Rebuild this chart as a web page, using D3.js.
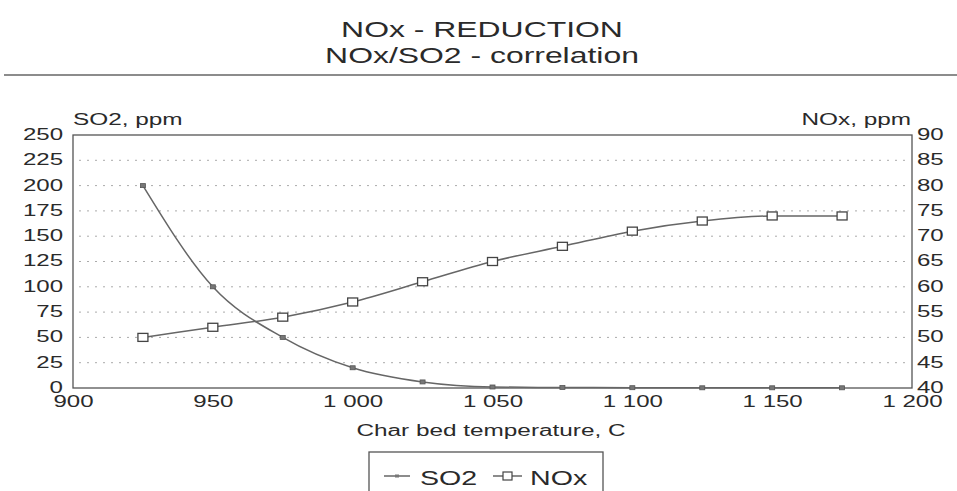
<!DOCTYPE html>
<html><head><meta charset="utf-8">
<script src="https://cdn.jsdelivr.net/npm/d3@7"></script>
<style>body{margin:0;background:#fff;}text{font-family:"Liberation Sans",Arial,sans-serif;fill:#2a2a2a;}</style>
</head><body>
<svg id="c" width="957" height="491"></svg>
<script>
const temps = [925, 950, 975, 1000, 1025, 1050, 1075, 1100, 1125, 1150, 1175];
const so2 = [200, 100, 50, 20, 6, 1, 0.5, 0.3, 0.2, 0.2, 0.2];
const nox = [50, 52, 54, 57, 61, 65, 68, 71, 73, 74, 74];
const xTicks = [900, 950, 1000, 1050, 1100, 1150, 1200];
const leftTicks = [0, 25, 50, 75, 100, 125, 150, 175, 200, 225, 250];
const rightTicks = [40, 45, 50, 55, 60, 65, 70, 75, 80, 85, 90];

const svg = d3.select("#c");
const L = 73, R = 912, T = 135, B = 388;
const x = d3.scaleLinear().domain([900, 1200]).range([L, R]);
const yL = d3.scaleLinear().domain([0, 250]).range([B, T]);
const yR = d3.scaleLinear().domain([40, 90]).range([B, T]);
const fmt = d => d >= 1000 ? Math.floor(d/1000) + " " + String(d%1000).padStart(3,"0") : String(d);
function stretch(sel, k) {
  sel.each(function() {
    const w = this.getComputedTextLength();
    this.setAttribute("textLength", (w * k).toFixed(1));
    this.setAttribute("lengthAdjust", "spacingAndGlyphs");
  });
}

// title
stretch(svg.append("text").attr("x", 482).attr("y", 37).attr("text-anchor", "middle").attr("font-size", 22).text("NOx - REDUCTION"), 1.45);
stretch(svg.append("text").attr("x", 482).attr("y", 63).attr("text-anchor", "middle").attr("font-size", 22).text("NOx/SO2 - correlation"), 1.45);
svg.append("line").attr("x1", 4).attr("x2", 957).attr("y1", 75).attr("y2", 75).attr("stroke", "#666").attr("stroke-width", 1.5);

// grid
svg.append("g").selectAll("line").data(leftTicks.slice(1, -1)).join("line")
  .attr("x1", L + 6).attr("x2", R - 6).attr("y1", d => yL(d)).attr("y2", d => yL(d))
  .attr("stroke", "#aaa").attr("stroke-dasharray", "2,6");

// axes
const ax = svg.append("g").attr("transform", `translate(0,${B})`).call(d3.axisBottom(x).tickValues(xTicks).tickFormat(fmt).tickSize(0).tickPadding(7));
const ayl = svg.append("g").attr("transform", `translate(${L},0)`).call(d3.axisLeft(yL).tickValues(leftTicks).tickSize(0).tickPadding(10));
const ayr = svg.append("g").attr("transform", `translate(${R},0)`).call(d3.axisRight(yR).tickValues(rightTicks).tickSize(0).tickPadding(5));
[ax, ayl, ayr].forEach(g => {
  g.selectAll("text").attr("font-size", 16).style("font-family", '"Liberation Sans",Arial,sans-serif').attr("fill", "#2a2a2a");
  g.select(".domain").remove();
});
ax.selectAll("text").attr("dy", "0.75em");
ayl.selectAll("text").attr("dy", "0.28em");
ayr.selectAll("text").attr("dy", "0.28em");
stretch(ax.selectAll("text"), 1.5);
stretch(ayl.selectAll("text"), 1.5);
stretch(ayr.selectAll("text"), 1.5);
svg.append("rect").attr("x", L).attr("y", T).attr("width", R - L).attr("height", B - T).attr("fill", "none").attr("stroke", "#555").attr("stroke-width", 1.3);

stretch(svg.append("text").attr("x", 73).attr("y", 125).attr("font-size", 16).text("SO2, ppm"), 1.52);
stretch(svg.append("text").attr("x", 911).attr("y", 125).attr("text-anchor", "end").attr("font-size", 16).text("NOx, ppm"), 1.52);
stretch(svg.append("text").attr("x", 491).attr("y", 436).attr("text-anchor", "middle").attr("font-size", 16).text("Char bed temperature, C"), 1.52);

// lines
const lineS = d3.line().x((d, i) => x(temps[i])).y(d => yL(d)).curve(d3.curveMonotoneX);
const lineN = d3.line().x((d, i) => x(temps[i])).y(d => yR(d)).curve(d3.curveMonotoneX);
svg.append("path").attr("d", lineS(so2)).attr("fill", "none").attr("stroke", "#666").attr("stroke-width", 1.5);
svg.append("path").attr("d", lineN(nox)).attr("fill", "none").attr("stroke", "#666").attr("stroke-width", 1.5);
svg.append("g").selectAll("rect").data(so2).join("rect")
  .attr("x", (d, i) => x(temps[i]) - 2.5).attr("y", d => yL(d) - 2).attr("width", 5).attr("height", 4)
  .attr("fill", "#777").attr("stroke", "#555").attr("stroke-width", 0.8);
svg.append("g").selectAll("rect").data(nox).join("rect")
  .attr("x", (d, i) => x(temps[i]) - 5).attr("y", d => yR(d) - 4).attr("width", 10).attr("height", 8)
  .attr("fill", "#fff").attr("stroke", "#444").attr("stroke-width", 1.3);

// legend
svg.append("rect").attr("x", 369).attr("y", 452).attr("width", 234).attr("height", 50).attr("fill", "none").attr("stroke", "#555").attr("stroke-width", 1.3);
svg.append("line").attr("x1", 384).attr("x2", 410).attr("y1", 476).attr("y2", 476).attr("stroke", "#666").attr("stroke-width", 1.5);
svg.append("rect").attr("x", 395).attr("y", 474.5).attr("width", 4).attr("height", 3).attr("fill", "#777");
stretch(svg.append("text").attr("x", 420).attr("y", 485).attr("font-size", 20).text("SO2"), 1.43);
svg.append("line").attr("x1", 493).attr("x2", 522).attr("y1", 476).attr("y2", 476).attr("stroke", "#666").attr("stroke-width", 1.5);
svg.append("rect").attr("x", 503).attr("y", 472).attr("width", 9).attr("height", 8).attr("fill", "#fff").attr("stroke", "#444").attr("stroke-width", 1.2);
stretch(svg.append("text").attr("x", 530).attr("y", 485).attr("font-size", 20).text("NOx"), 1.43);
</script>
</body></html>
